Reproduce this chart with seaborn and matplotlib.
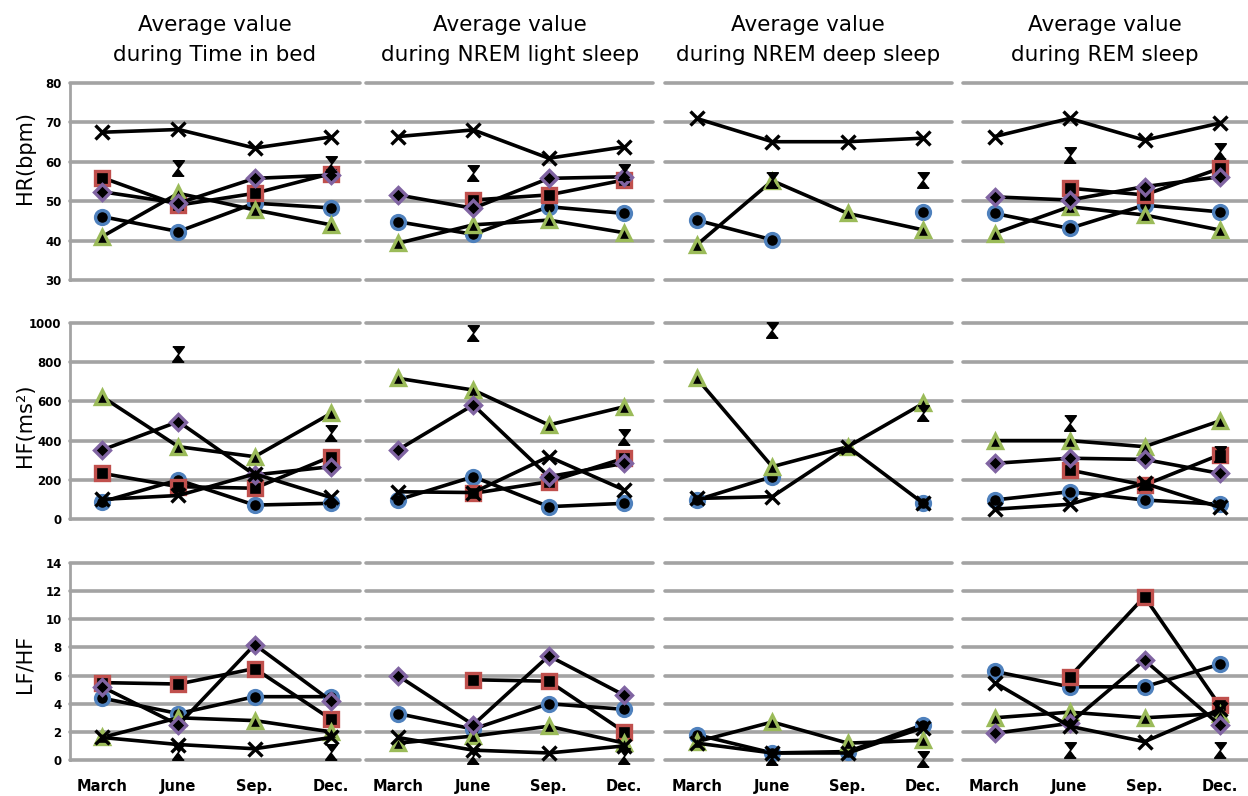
"""
Seasonal averages of HR, HF and LF/HF during the sleep stages.
Six subjects, four measurement months, one panel per metric and stage.
"""

import numpy as np
import pandas as pd
import matplotlib
matplotlib.use("Agg")
import matplotlib.pyplot as plt
import seaborn as sns

nan = np.nan

MONTHS = ["March", "June", "Sep.", "Dec."]
STAGES = ["Time in bed", "NREM light sleep", "NREM deep sleep", "REM sleep"]
SERIES = ["blue", "red", "green", "purple", "cross", "hourglass"]

# HR (bpm)
HR_BED = {"blue": [46.1, 42.3, 49.5, 48.3], "red": [56.0, 49.0, 52.0, 57.0],
          "green": [41.0, 52.0, 47.8, 44.0], "purple": [52.4, 49.5, 55.8, 56.6],
          "cross": [67.5, 68.2, 63.5, 66.3], "hourglass": [nan, 58.3, nan, 59.5]}
HR_LIGHT = {"blue": [44.8, 41.6, 48.6, 46.9], "red": [nan, 50.3, 51.6, 55.4],
            "green": [39.3, 44.0, 45.2, 42.0], "purple": [51.6, 48.2, 55.8, 56.2],
            "cross": [66.4, 68.1, 60.9, 63.8], "hourglass": [nan, 57.1, nan, 57.5]}
HR_DEEP = {"blue": [45.2, 40.2, nan, 47.3], "red": [nan, nan, nan, nan],
           "green": [38.9, 55.2, 46.9, 42.7], "purple": [nan, nan, nan, nan],
           "cross": [71.0, 65.1, 65.1, 66.0], "hourglass": [nan, 55.4, nan, 55.4]}
HR_REM = {"blue": [46.9, 43.1, 49.0, 47.3], "red": [nan, 53.3, 51.6, 58.3],
          "green": [41.8, 48.6, 46.5, 42.7], "purple": [51.1, 50.3, 53.7, 56.2],
          "cross": [66.4, 71.0, 65.5, 69.8], "hourglass": [nan, 61.7, nan, 62.8]}

# HF (ms2)
HF_BED = {"blue": [88, 199, 71, 80], "red": [233, 165, 157, 318],
          "green": [624, 369, 318, 539], "purple": [352, 497, 225, 267],
          "cross": [100, 120, 230, 110], "hourglass": [nan, 840, nan, 437]}
HF_LIGHT = {"blue": [97, 216, 63, 80], "red": [nan, 131, 190, 310],
            "green": [718, 658, 480, 573], "purple": [352, 582, 216, 284],
            "cross": [139, 135, 318, 148], "hourglass": [nan, 947, nan, 420]}
HF_DEEP = {"blue": [97, 216, nan, 80], "red": [nan, nan, nan, nan],
           "green": [718, 267, 369, 590], "purple": [nan, nan, nan, nan],
           "cross": [105, 114, 369, 80], "hourglass": [nan, 964, nan, 539]}
HF_REM = {"blue": [97, 139, 97, 75], "red": [nan, 250, 173, 327],
          "green": [400, 400, 369, 500], "purple": [284, 310, 304, 233],
          "cross": [50, 75, 182, 60], "hourglass": [nan, 490, nan, 330]}

# LF/HF
LFHF_BED = {"blue": [4.4, 3.3, 4.5, 4.5], "red": [5.5, 5.4, 6.5, 2.9],
            "green": [1.6, 3.0, 2.8, 2.0], "purple": [5.2, 2.5, 8.2, 4.2],
            "cross": [1.6, 1.1, 0.8, 1.6], "hourglass": [nan, 0.6, nan, 0.6]}
LFHF_LIGHT = {"blue": [3.3, 2.2, 4.0, 3.6], "red": [nan, 5.7, 5.6, 2.0],
              "green": [1.2, 1.7, 2.4, 1.2], "purple": [6.0, 2.5, 7.4, 4.6],
              "cross": [1.6, 0.7, 0.5, 1.0], "hourglass": [nan, 0.3, nan, 0.3]}
LFHF_DEEP = {"blue": [1.8, 0.5, 0.6, 2.5], "red": [nan, nan, nan, nan],
             "green": [1.3, 2.7, 1.2, 1.4], "purple": [nan, nan, nan, nan],
             "cross": [1.2, 0.5, 0.5, 2.3], "hourglass": [nan, 0.2, nan, 0.1]}
LFHF_REM = {"blue": [6.3, 5.2, 5.2, 6.8], "red": [nan, 5.9, 11.6, 3.9],
            "green": [3.0, 3.4, 3.0, 3.3], "purple": [1.9, 2.6, 7.1, 2.5],
            "cross": [5.5, 2.4, 1.3, 3.6], "hourglass": [nan, 0.7, nan, 0.7]}

ROWS = [
    ("HR(bpm)", [HR_BED, HR_LIGHT, HR_DEEP, HR_REM], [30, 40, 50, 60, 70, 80]),
    ("HF(ms²)", [HF_BED, HF_LIGHT, HF_DEEP, HF_REM], [0, 200, 400, 600, 800, 1000]),
    ("LF/HF", [LFHF_BED, LFHF_LIGHT, LFHF_DEEP, LFHF_REM], [0, 2, 4, 6, 8, 10, 12, 14]),
]

HOURGLASS = [(-0.75, 1), (0.75, 1), (-0.75, -1), (0.75, -1)]
MARKERS = {
    "blue": dict(marker="o", markersize=10, markerfacecolor="black",
                 markeredgecolor="#4f81bd", markeredgewidth=2.4),
    "red": dict(marker="s", markersize=10, markerfacecolor="black",
                markeredgecolor="#c0504d", markeredgewidth=2.4),
    "green": dict(marker="^", markersize=10, markerfacecolor="black",
                  markeredgecolor="#9bbb59", markeredgewidth=2.4),
    "purple": dict(marker="D", markersize=8.5, markerfacecolor="black",
                   markeredgecolor="#8064a2", markeredgewidth=2.4),
    "cross": dict(marker="x", markersize=10, markerfacecolor="black",
                  markeredgecolor="black", markeredgewidth=2.4),
    "hourglass": dict(marker=HOURGLASS, markersize=11, markerfacecolor="black",
                      markeredgecolor="black", markeredgewidth=1.2),
}

W, H = 1248, 796
COLS_PX = [(70, 290), (366, 287), (665, 287), (963, 285)]
ROWS_PX = [(83, 280), (323, 519), (563, 760)]
TITLE_X = [215, 510, 808, 1105]
YLABEL_Y = [158, 425, 664]

sns.set_style("white")
plt.rcParams["font.family"] = ["DejaVu Sans"]
plt.rcParams["text.color"] = "black"
plt.rcParams["xtick.color"] = "black"
plt.rcParams["ytick.color"] = "black"


def to_long(values):
    # break each series at missing months so no line bridges a gap
    rows = []
    for name in SERIES:
        seg = 0
        for i, v in enumerate(values[name]):
            if np.isnan(v):
                seg += 1
                continue
            rows.append({"series": name, "pos": i, "value": v, "seg": seg})
    return pd.DataFrame(rows)


def draw_panel(ax, values, yticks, first_col, last_row):
    lo, hi = yticks[0], yticks[-1]
    for t in yticks:
        ax.axhline(t, color="#a3a3a3", lw=2.6, zorder=0, clip_on=False)

    df = to_long(values)
    for name in SERIES:
        sub = df[df["series"] == name]
        if sub.empty:
            continue
        sns.lineplot(data=sub, x="pos", y="value", units="seg", estimator=None,
                     ax=ax, color="black", lw=2.6, zorder=3, clip_on=False,
                     **MARKERS[name])

    ax.set_xlim(-0.42, 3.38)
    ax.set_ylim(lo, hi)
    ax.set_xlabel("")
    ax.set_ylabel("")
    for s in ax.spines.values():
        s.set_visible(False)
    ax.tick_params(length=0)
    ax.set_yticks(yticks)
    if first_col:
        ax.spines["left"].set_visible(True)
        ax.spines["left"].set_color("#a3a3a3")
        ax.spines["left"].set_linewidth(2)
        ax.set_yticklabels([str(t) for t in yticks], fontsize=8.5,
                           fontweight="bold")
        ax.tick_params(axis="y", pad=6)
    else:
        ax.set_yticklabels([])
    ax.set_xticks(range(len(MONTHS)))
    if last_row:
        ax.set_xticklabels(MONTHS, fontsize=10.5, fontweight="bold")
        ax.tick_params(axis="x", pad=14)
    else:
        ax.set_xticklabels([])


def main():
    fig = plt.figure(figsize=(W / 100, H / 100), dpi=100)

    for r, (ylabel, panels, yticks) in enumerate(ROWS):
        top, bottom = ROWS_PX[r]
        for c, values in enumerate(panels):
            left, width = COLS_PX[c]
            ax = fig.add_axes([left / W, 1 - bottom / H, width / W,
                               (bottom - top) / H])
            draw_panel(ax, values, yticks, c == 0, r == len(ROWS) - 1)
        fig.text(25 / W, 1 - YLABEL_Y[r] / H, ylabel, rotation=90,
                 ha="center", va="center", fontsize=15)

    for c, stage in enumerate(STAGES):
        fig.text(TITLE_X[c] / W, 1 - 40 / H, f"Average value\nduring {stage}",
                 ha="center", va="center", fontsize=15.5, linespacing=1.6)

    fig.savefig("out.png", dpi=100)
    plt.close(fig)


if __name__ == "__main__":
    main()
